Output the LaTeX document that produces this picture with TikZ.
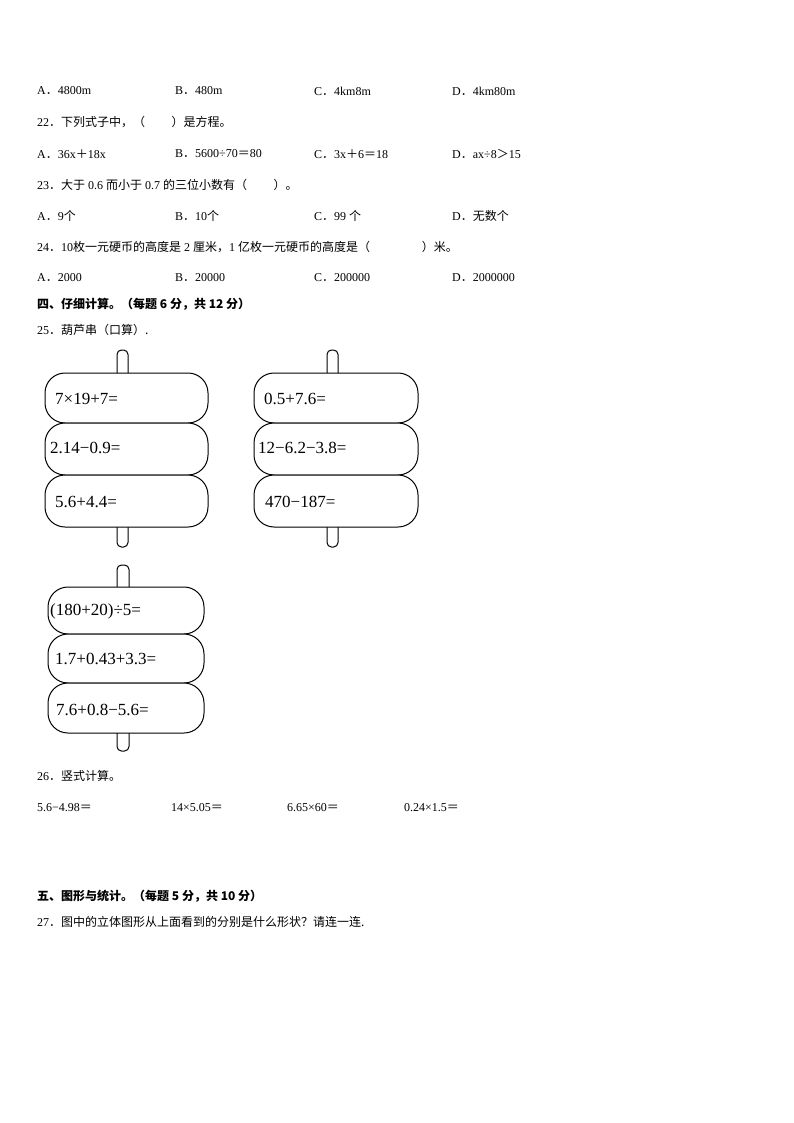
\documentclass[tikz,border=0pt]{standalone}
\usepackage{fontspec}
\setmainfont{Liberation Serif}
\newfontfamily\cjk{Noto Sans CJK SC}
\newcommand\zdot{{\cjk ．}}
\newcommand\zplus{{\cjk ＋}}
\newcommand\zeq{{\cjk ＝}}
\newcommand\zgt{{\cjk ＞}}
\begin{document}
\begin{tikzpicture}[x=1pt,y=-1pt,
  t/.style={anchor=west,inner sep=0pt,font=\fontsize{12}{12}\selectfont},
  b/.style={anchor=west,inner sep=0pt,font=\cjk\bfseries\fontsize{12}{12}\selectfont},
  pill/.style={draw,line width=1pt,rounded corners=20pt},
  stk/.style={draw,line width=1pt,fill=white,rounded corners=4.5pt},
  f/.style={anchor=west,inner sep=0pt,font=\fontsize{17}{17}\selectfont}]
\useasboundingbox (0,0) rectangle (794,1123);
\node[t] (a1) at (37,91) {A\zdot 4800m};
\node[t] (b1) at (175,91) {B\zdot 480m};
\node[t] (c1) at (314,91) {C\zdot 4km8m};
\node[t] (d1) at (452,91) {D\zdot 4km80m};
\node[t] (q22) at (37,122) {22\zdot{\cjk 下列式子中，（\hspace{2.2em}）是方程。}};
\node[t] (a2) at (37,154) {A\zdot 36x\zplus 18x};
\node[t] (b2) at (175,154) {B\zdot 5600÷70\zeq 80};
\node[t] (c2) at (314,154) {C\zdot 3x\zplus 6\zeq 18};
\node[t] (d2) at (452,154) {D\zdot ax÷8\zgt 15};
\node[t] (q23) at (37,185) {23\zdot{\cjk 大于} 0.6 {\cjk 而小于} 0.7 {\cjk 的三位小数有（\hspace{2.2em}）。}};
\node[t] (a3) at (37,216) {A\zdot 9{\cjk 个}};
\node[t] (b3) at (175,216) {B\zdot 10{\cjk 个}};
\node[t] (c3) at (314,216) {C\zdot 99 {\cjk 个}};
\node[t] (d3) at (452,216) {D\zdot{\cjk 无数个}};
\node[t] (q24) at (37,247) {24\zdot 10{\cjk 枚一元硬币的高度是} 2 {\cjk 厘米，}1 {\cjk 亿枚一元硬币的高度是（\hspace{4.3em}）米。}};
\node[t] (a4) at (37,278) {A\zdot 2000};
\node[t] (b4) at (175,278) {B\zdot 20000};
\node[t] (c4) at (314,278) {C\zdot 200000};
\node[t] (d4) at (452,278) {D\zdot 2000000};
\node[b] (h4) at (37,304) {四、仔细计算。（每题 6 分，共 12 分）};
\node[t] (q25) at (37,330) {25\zdot{\cjk 葫芦串（口算）.}};
% group 1
\draw[stk] (117,350) rectangle (128,380);
\draw[stk] (117,520) rectangle (128,547);
\draw[pill,fill=white] (45,373) rectangle (208,423);
\draw[pill,fill=white] (45,423) rectangle (208,475);
\draw[pill,fill=white] (45,475) rectangle (208,527);
\node[f] (g11) at (55,399) {7×19+7=};
\node[f] (g12) at (50,448) {2.14−0.9=};
\node[f] (g13) at (55,502) {5.6+4.4=};
% group 2
\draw[stk] (327,350) rectangle (338,380);
\draw[stk] (327,520) rectangle (338,547);
\draw[pill,fill=white] (254,373) rectangle (418,423);
\draw[pill,fill=white] (254,423) rectangle (418,475);
\draw[pill,fill=white] (254,475) rectangle (418,527);
\node[f] (g21) at (264,399) {0.5+7.6=};
\node[f] (g22) at (258,448) {12−6.2−3.8=};
\node[f] (g23) at (265,502) {470−187=};
% group 3
\draw[stk] (117,565) rectangle (129,595);
\draw[stk] (117,725) rectangle (129,751);
\draw[pill,fill=white] (48,587) rectangle (204,634);
\draw[pill,fill=white] (48,634) rectangle (204,683);
\draw[pill,fill=white] (48,683) rectangle (204,733);
\node[f] (g31) at (50,611) {(180+20)÷5=};
\node[f] (g32) at (55,659) {1.7+0.43+3.3=};
\node[f] (g33) at (56,710) {7.6+0.8−5.6=};
\node[t] (q26) at (37,776) {26\zdot{\cjk 竖式计算。}};
\node[t] (e1) at (37,808) {5.6−4.98\zeq};
\node[t] (e2) at (171,808) {14×5.05\zeq};
\node[t] (e3) at (287,808) {6.65×60\zeq};
\node[t] (e4) at (404,808) {0.24×1.5\zeq};
\node[b] (h5) at (37,896) {五、图形与统计。（每题 5 分，共 10 分）};
\node[t] (q27) at (37,922) {27\zdot{\cjk 图中的立体图形从上面看到的分别是什么形状？请连一连.}};
\end{tikzpicture}
\end{document}
